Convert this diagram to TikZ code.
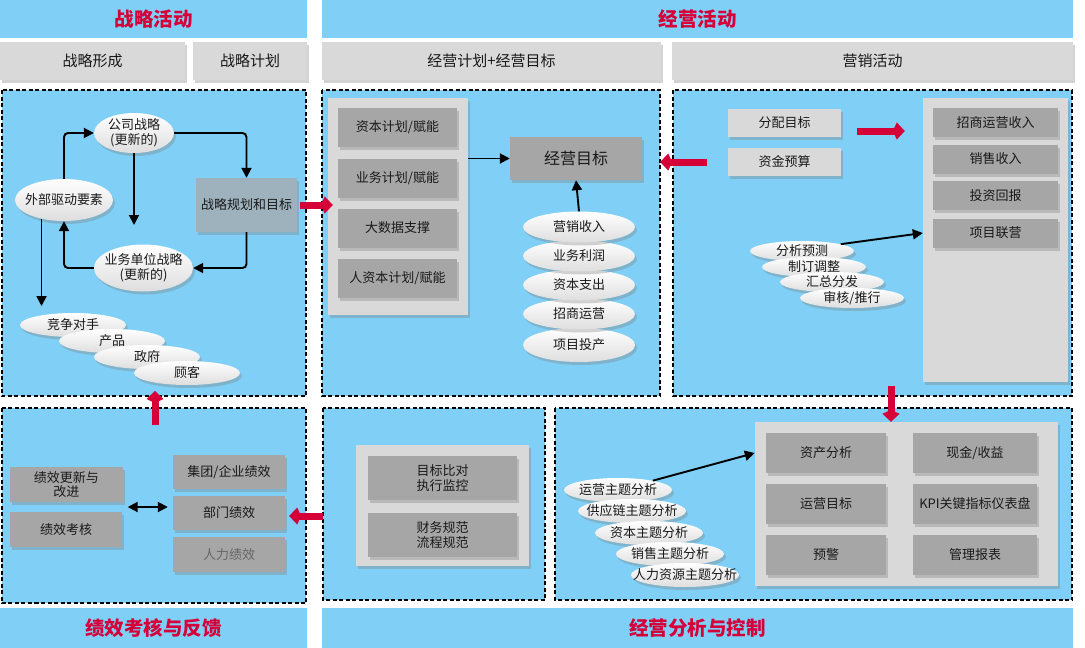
\documentclass[tikz,border=0pt]{standalone}
\usepackage{fontspec}
\setmainfont{Noto Sans CJK SC}
\usetikzlibrary{shapes.geometric,arrows.meta,shadows,calc}
\definecolor{skyfill}{RGB}{127,207,246}
\definecolor{headred}{RGB}{214,0,57}
\definecolor{lightbox}{RGB}{217,217,217}
\definecolor{darkbox}{RGB}{166,166,166}
\definecolor{planbox}{RGB}{158,178,190}

\begin{document}
\begin{tikzpicture}[x=1pt, y=-1pt,
      every node/.style = {align=center, inner sep=0pt, text=black!90,
        font=\fontsize{13}{14.5}\selectfont},
      boxshadow/.style = {drop shadow={shadow xshift=2pt, shadow yshift=-3pt,
        opacity=.35}},
      lbox/.style 2 args = {rectangle, fill=lightbox, minimum width=#1,
        minimum height=#2, boxshadow},
      dbox/.style 2 args = {rectangle, fill=darkbox, minimum width=#1,
        minimum height=#2, boxshadow},
      oval/.style 2 args = {ellipse, top color=white, bottom color=black!13,
        inner xsep=-40pt, inner ysep=-14pt, minimum width=#1,
        minimum height=#2, boxshadow},
      band/.style 2 args = {rectangle, fill=skyfill, minimum width=#1,
        minimum height=#2},
      bandtitle/.style = {text=headred,
        font=\fontsize{19.5}{22}\selectfont\bfseries},
      subhead/.style = {font=\fontsize{15}{17}\selectfont},
      panel/.style = {fill=skyfill, draw=black, line width=1.3pt,
        dash pattern=on 4pt off 2.5pt},
      arr/.style = {draw=black, line width=1.9pt,
        -{Triangle[length=10pt,width=10pt]}},
      darr/.style = {draw=black, line width=1.9pt,
        {Triangle[length=10pt,width=10pt]}-{Triangle[length=10pt,width=10pt]}},
      redarr/.style = {draw=headred, line width=7pt,
        -{Kite[length=12pt,width=17pt,inset=4pt]}}]
  \useasboundingbox (0,0) rectangle (1085,648);

  % title bands
  \node[band={307}{38}, bandtitle] (hdA) at (153.5,19) {战略活动};
  \node[band={751}{38}, bandtitle] (hdB) at (697.5,19) {经营活动};
  \node[band={307}{40}, bandtitle] (ftA) at (153.5,628) {绩效考核与反馈};
  \node[band={751}{40}, bandtitle] (ftB) at (697.5,628) {经营分析与控制};

  \node[lbox={185}{38}, subhead] (sA1) at (92.5,61) {战略形成};
  \node[lbox={114}{38}, subhead] (sA2) at (250,61) {战略计划};
  \node[lbox={339}{38}, subhead] (sB1) at (491.5,61) {经营计划+经营目标};
  \node[lbox={401}{38}, subhead] (sB2) at (872.5,61) {营销活动};

  % panels
  \draw[panel] (2,90) rectangle (306,396);
  \draw[panel] (322,90) rectangle (660,396);
  \draw[panel] (673,90) rectangle (1072,396);
  \draw[panel] (2,408) rectangle (306,603);
  \draw[panel] (323,408) rectangle (545,600);
  \draw[panel] (555,408) rectangle (1072,600);

  % strategy formation
  \node[oval={80}{40}] (cs) at (134,133) {公司战略\\(更新的)};
  \node[oval={98}{42}] (ext) at (64,200) {外部驱动要素};
  \node[rectangle, fill=planbox, minimum width=101, minimum height=54,
    boxshadow] (plan) at (246.5,205) {战略规划和目标};
  \node[oval={99}{47}] (bu) at (143.5,268) {业务单位战略\\(更新的)};
  \node[oval={106}{24}] (ef1) at (73,325) {竞争对手};
  \node[oval={106}{24}] (ef2) at (112,341) {产品};
  \node[oval={106}{24}] (ef3) at (147,357) {政府};
  \node[oval={106}{24}] (ef4) at (187,373) {顾客};
  \coordinate (csend) at (134,225);
  \coordinate (extend) at (42,306);
  \draw[arr, rounded corners=4pt] (ext.north) |- (cs.west);
  \draw[arr, rounded corners=4pt] (cs.east) -| (plan.north);
  \draw[arr] (cs.south) -- (csend);
  \draw[arr, rounded corners=4pt] (plan.south) |- (bu.east);
  \draw[arr, rounded corners=4pt] (bu.west) -| (ext.south);
  \draw[arr] (ext.-140) -- (ext.-140 |- extend);

  % operating plan
  \node[lbox={140}{217}] (bcont) at (398,206.5) {};
  \node[dbox={119}{39}] (bp1) at (397.5,127) {资本计划/赋能};
  \node[dbox={119}{39}] (bp2) at (397.5,178) {业务计划/赋能};
  \node[dbox={119}{39}] (bp3) at (397.5,228) {大数据支撑};
  \node[dbox={119}{39}] (bp4) at (397.5,278.5) {人资本计划/赋能};
  \node[dbox={132}{43}, font=\fontsize{16}{18}\selectfont] (jm) at (576,158.5)
    {经营目标};
  \node[oval={112}{34}] (bo5) at (579,345) {项目投产};
  \node[oval={112}{31}] (bo4) at (579,314) {招商运营};
  \node[oval={112}{31}] (bo3) at (579,285) {资本支出};
  \node[oval={112}{31}] (bo2) at (579,256) {业务利润};
  \node[oval={112}{31}] (bo1) at (579,227) {营销收入};
  \draw[arr] (bcont.east |- jm) -- (jm.west);
  \draw[arr] (bo1.north) -- (jm.south);

  % marketing
  \node[lbox={113}{28}] (fp) at (784.5,123) {分配目标};
  \node[lbox={113}{28}] (zj) at (784.5,162) {资金预算};
  \node[lbox={145}{284}] (ccont) at (995.5,240) {};
  \node[dbox={125}{29}] (zs) at (995.5,122.5) {招商运营收入};
  \node[dbox={125}{29}] (xs) at (995.5,159) {销售收入};
  \node[dbox={125}{29}] (tz) at (995.5,195.5) {投资回报};
  \node[dbox={125}{29}] (pj) at (995.5,233) {项目联营};
  \node[oval={104}{20}] (fx1) at (802,251) {分析预测};
  \node[oval={104}{20}] (fx2) at (814,267) {制订调整};
  \node[oval={104}{20}] (fx3) at (832,282) {汇总分发};
  \node[oval={104}{20}] (fx4) at (852,298) {审核/推行};
  \draw[arr] (fx1.10) -- (ccont.west |- pj);

  % performance
  \node[dbox={113}{35}] (upd) at (66.5,484.5) {绩效更新与\\改进};
  \node[dbox={112}{35}] (kh) at (66,529.5) {绩效考核};
  \node[dbox={112}{34}] (jt) at (229,472) {集团/企业绩效};
  \node[dbox={112}{34}] (bm) at (229,513) {部门绩效};
  \node[dbox={112}{35}, text=black!60] (rl) at (229,554.5) {人力绩效};
  \coordinate (dl) at ($(upd.south east)!.5!(kh.north east)+(5,0)$);
  \draw[darr] (dl) -- ([xshift=-5pt]dl -| bm.west);

  % control
  \node[lbox={173}{121}] (econt) at (442.5,505.5) {};
  \node[dbox={149}{44}] (e1) at (442.5,478) {目标比对\\执行监控};
  \node[dbox={149}{44}] (e2) at (442.5,535) {财务规范\\流程规范};

  % analysis
  \node[lbox={303}{164}] (fcont) at (906.5,504) {};
  \node[dbox={120}{40}] (ga) at (826,453) {资产分析};
  \node[dbox={124}{40}] (gb) at (975,453) {现金/收益};
  \node[dbox={120}{40}] (gc) at (826,504) {运营目标};
  \node[dbox={124}{40}] (gd) at (975,504) {KPI关键指标仪表盘};
  \node[dbox={120}{40}] (ge) at (826,555) {预警};
  \node[dbox={124}{40}] (gf) at (975,555) {管理报表};
  \node[oval={108}{24}] (fo1) at (618,490) {运营主题分析};
  \node[oval={108}{24}] (fo2) at (632,511) {供应链主题分析};
  \node[oval={108}{24}] (fo3) at (649,533) {资本主题分析};
  \node[oval={108}{24}] (fo4) at (670,554) {销售主题分析};
  \node[oval={108}{24}] (fo5) at (685,575) {人力资源主题分析};
  \draw[arr] (fo1.15) -- (fcont.west |- ga);

  % links between panels
  \coordinate (rC) at (707,162);
  \coordinate (rCa) at (857,131);
  \coordinate (rF) at (891,386);
  \coordinate (rD) at (155,425);
  \coordinate (rDt) at (155,391);
  \coordinate (rE) at (323,516);
  \draw[redarr] ([xshift=3pt]plan.east) -- ([xshift=5pt]bcont.west |- plan.east);
  \draw[redarr] (rC) -- ([xshift=18pt]jm.east |- rC);
  \draw[redarr] (rCa) -- ([xshift=-18pt]rCa -| ccont.west);
  \draw[redarr] (rF) -- (rF |- fcont.north);
  \draw[redarr] (rD) -- (rDt);
  \draw[redarr] (rE) -- ([xshift=4pt]rE -| bm.east);
\end{tikzpicture}
\end{document}
